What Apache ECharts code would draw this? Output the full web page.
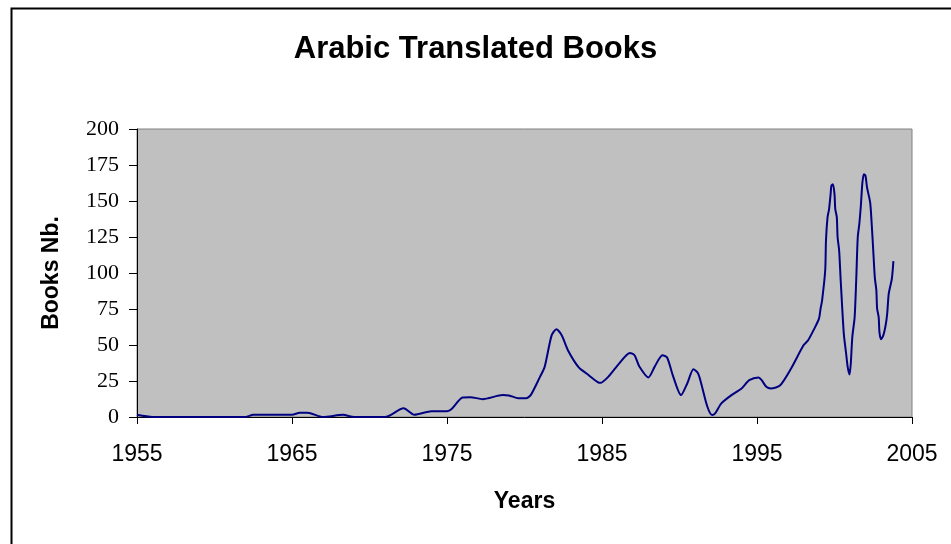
<!DOCTYPE html>
<html>
<head>
<meta charset="utf-8">
<script src="https://cdn.jsdelivr.net/npm/echarts@6/dist/echarts.min.js"></script>
<style>html,body{margin:0;padding:0;background:#fff;}#c{width:951px;height:544px;}</style>
</head>
<body>
<div id="c"></div>
<script>
var titleText = "Arabic Translated Books";
var xName = "Years";
var yName = "Books Nb.";
var years = [1955,1956,1962,1962.5,1965,1965.5,1966,1967,1968.3,1969,1971,1972.2,1972.9,1974,1975,1975.3,1976,1976.5,1977.3,1978.6,1979,1979.6,1980.1,1980.4,1981,1981.3,1981.75,1982.06,1982.4,1982.8,1983.5,1984,1984.7,1984.9,1985.4,1986.1,1986.8,1987.1,1987.4,1988,1988.4,1988.9,1989.2,1989.6,1990.1,1990.5,1990.9,1991.2,1991.4,1991.8,1992.1,1992.3,1992.7,1993.35,1994,1994.5,1995.1,1995.3,1995.6,1995.9,1996.5,1997.2,1998,1998.3,1998.7,1999,1999.1,1999.2,1999.4,1999.45,1999.55,1999.65,1999.75,1999.8,1999.9,2000.0,2000.05,2000.15,2000.2,2000.3,2000.4,2000.6,2000.75,2000.85,2000.97,2001.05,2001.15,2001.3,2001.4,2001.5,2001.6,2001.7,2001.8,2001.9,2002.0,2002.1,2002.3,2002.4,2002.5,2002.6,2002.7,2002.75,2002.85,2002.9,2003.0,2003.15,2003.3,2003.4,2003.5,2003.7,2003.8];
var books = [1.5,0,0,1.5,1.5,3,3,0,1.5,0,0,6,1.5,4,4,5.5,13.5,13.8,12.4,15.2,15,13,13,15.2,27.9,34.8,56.7,60.9,56.7,46.4,34.4,30.2,24.4,23.7,27.9,37.1,44.5,42.9,35.3,27.5,35,42.9,41.3,27.9,15.2,23.3,33.2,30.2,23.3,7.1,1.4,2.5,9.5,15.2,19.8,25.6,27.5,25.6,21,19.8,22.1,33.7,49.8,53.3,61.4,68.3,75.2,81,101.7,122.5,138.6,144.4,154.8,160.6,161.7,154.8,144.4,138.6,124.8,115.6,94.8,57.9,44.1,34.8,29.5,37.1,55.6,69.4,94.8,124.8,134,146.7,162.8,168.6,167.5,159.4,149,134,115.6,97,87.9,75.2,69.4,59,54,56.7,63.7,71.8,85.6,96,108.2];

var data = years.map(function(y, i){ return [y, books[i]]; });
var chart = echarts.init(document.getElementById('c'), null, {renderer: 'canvas'});
chart.setOption({
  animation: false,
  backgroundColor: '#ffffff',
  graphic: [{
    type: 'rect', left: 9, top: 6, silent: true,
    shape: {x: 0, y: 0, width: 1200, height: 1000},
    style: {fill: 'none', stroke: '#000', lineWidth: 2}
  }],
  title: {
    text: titleText, left: 'center', top: 29,
    textStyle: {fontFamily: 'Liberation Sans, Arial', fontWeight: 'bold', fontSize: 31, color: '#000'}
  },
  grid: {
    left: 137, right: 39, top: 129, bottom: 127,
    show: true, backgroundColor: '#C0C0C0', borderColor: '#808080', borderWidth: 1
  },
  xAxis: {
    type: 'value', min: 1955, max: 2005, interval: 10,
    name: xName, nameLocation: 'middle', nameGap: 73,
    nameTextStyle: {fontFamily: 'Liberation Sans, Arial', fontWeight: 'bold', fontSize: 23, color: '#000'},
    axisLine: {show: true, lineStyle: {color: '#000', width: 1}},
    axisTick: {show: true, length: 7, lineStyle: {color: '#000'}},
    axisLabel: {margin: 26, fontFamily: 'Liberation Sans, Arial', fontSize: 23, color: '#000',
      formatter: function(v){ return String(Math.round(v)); }},
    splitLine: {show: false}
  },
  yAxis: {
    type: 'value', min: 0, max: 200, interval: 25,
    name: yName, nameLocation: 'middle', nameGap: 74, nameRotate: 90,
    nameTextStyle: {fontFamily: 'Liberation Sans, Arial', fontWeight: 'bold', fontSize: 23, color: '#000'},
    axisLine: {show: true, lineStyle: {color: '#000', width: 1}},
    axisTick: {show: true, length: 8, lineStyle: {color: '#000'}},
    axisLabel: {margin: 18, fontFamily: 'Liberation Serif, Times New Roman', fontSize: 22, color: '#000'},
    splitLine: {show: false}
  },
  series: [{
    type: 'line', data: data, showSymbol: false, smooth: 0.25,
    lineStyle: {color: '#000080', width: 2}, itemStyle: {color: '#000080'}
  }]
});
</script>
</body>
</html>
